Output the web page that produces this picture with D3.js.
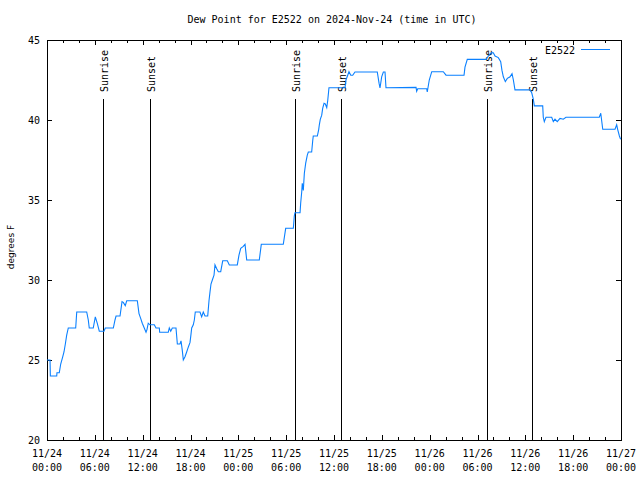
<!DOCTYPE html>
<html><head><meta charset="utf-8">
<script src="https://cdn.jsdelivr.net/npm/d3@7"></script>
<style>
body{margin:0;background:#fff}
svg text{font-family:"DejaVu Sans Mono",monospace;font-size:10px;fill:#000}
</style>
</head><body><svg id="c" width="640" height="480"></svg>
<script>
const chartTitle = "Dew Point for E2522 on 2024-Nov-24 (time in UTC)";
const seriesName = "E2522";
const yAxisLabel = "degrees F";
// hours since 2024-11-24 00:00 UTC
const hours = [0.0,0.38,0.42,1.22,1.25,1.54,1.72,1.97,2.13,2.3,2.47,2.67,3.6,3.73,4.98,5.18,5.3,5.8,6.06,6.3,6.56,7.15,7.31,8.32,8.53,8.66,9.16,9.41,9.57,9.82,10.0,11.33,11.54,11.75,11.95,12.2,12.42,12.54,12.7,12.92,13.46,13.67,14.09,14.13,15.21,15.34,15.52,15.72,16.18,16.35,16.68,16.81,16.97,17.1,17.31,17.52,17.72,17.94,18.06,18.15,18.35,18.48,18.6,19.19,19.4,19.6,19.82,20.16,20.32,20.45,20.57,20.74,20.95,21.07,21.29,21.49,21.79,22.04,22.62,22.87,23.87,24.08,24.3,24.62,24.84,25.05,26.63,26.88,29.64,29.94,30.9,31.02,31.1,31.74,31.82,31.95,32.02,32.15,32.28,32.45,32.65,32.78,33.2,33.33,33.4,33.91,34.08,34.16,34.28,34.46,34.58,34.75,34.91,35.09,35.21,35.37,37.38,37.5,37.72,37.88,38.1,38.35,38.63,41.43,41.65,41.77,41.98,42.19,42.4,42.52,46.29,46.37,46.5,47.63,47.7,47.95,48.26,49.71,50.05,52.31,52.43,52.72,55.07,55.36,55.7,55.98,56.2,56.61,56.91,57.07,57.24,57.49,57.74,58.08,58.33,58.5,58.7,60.59,60.8,61.0,61.13,62.18,62.25,62.38,62.59,63.31,63.51,63.72,64.0,64.35,64.76,65.1,69.28,69.46,69.71,71.25,71.46,71.58,71.8,71.95];
const dewPoint = [25.0,25.0,24.0,24.0,24.2,24.2,24.75,25.2,25.5,26.0,26.55,27.0,27.0,28.0,28.0,27.5,27.0,27.0,27.7,27.3,26.8,26.8,27.0,27.0,27.5,27.75,27.75,28.65,28.6,28.4,28.7,28.7,27.9,27.6,27.3,27.0,26.73,26.9,27.3,27.2,27.2,27.0,27.0,26.73,26.73,27.0,26.8,27.0,27.0,26.0,26.0,26.2,25.6,25.0,25.2,25.5,25.8,26.1,26.6,27.0,27.2,27.5,28.0,28.0,27.7,28.0,27.75,27.75,28.7,29.27,29.75,30.0,30.3,30.94,30.7,30.52,30.52,31.2,31.2,30.94,30.94,31.56,31.98,32.1,32.23,31.25,31.25,32.23,32.23,33.23,33.23,34.0,34.2,34.2,34.8,35.5,36.04,35.6,36.67,37.3,37.8,38.0,38.0,38.7,39.0,39.0,39.4,39.7,40.04,40.3,40.73,41.04,41.0,40.77,41.2,42.02,42.02,42.5,42.8,43.02,42.8,42.8,43.0,43.0,42.3,42.0,42.7,43.0,43.0,42.02,42.04,41.8,41.95,41.95,41.75,42.5,43.02,43.02,42.8,42.8,43.3,43.79,43.79,44.0,44.2,44.2,44.0,43.9,43.65,43.1,42.7,42.4,42.6,42.7,42.9,42.5,41.88,41.88,41.7,41.3,40.88,40.88,40.17,39.9,40.17,40.17,39.9,40.05,39.9,40.1,40.05,40.17,40.17,40.42,39.42,39.42,39.7,39.42,39.0,38.8];
const sunEventNames = ["Sunrise","Sunset","Sunrise","Sunset","Sunrise","Sunset"];
const sunEventHours = [7.06,12.96,31.15,36.92,55.25,60.88];
const yTickValues = [20,25,30,35,40,45];
const xMajorStepHours = 6;
const xMinorStepHours = 2;

const W=640,H=480, L=47, R=621, T=40, B=440;
const svg=d3.select("#c");
const t0=Date.UTC(2024,10,24,0,0);
const toDate=h=>new Date(t0+h*3600e3);
const x=d3.scaleUtc().domain([toDate(0),toDate(72)]).range([L,R]);
const y=d3.scaleLinear().domain([20,45]).range([B,T]);

const g=svg.append("g").attr("shape-rendering","crispEdges");
const majors=d3.range(0,72+0.01,xMajorStepHours).map(toDate);
const minors=d3.range(0,72+0.01,xMinorStepHours).map(toDate);
// x ticks bottom & top
minors.forEach(d=>{
  const X=Math.round(x(d))+0.5;
  const len = (+d - t0) % (xMajorStepHours*3600e3)===0 ? 5 : 3;
  g.append("line").attr("x1",X).attr("x2",X).attr("y1",B).attr("y2",B-len).attr("stroke","#000");
  g.append("line").attr("x1",X).attr("x2",X).attr("y1",T).attr("y2",T+len).attr("stroke","#000");
});
const fD=d3.utcFormat("%m/%d"), fT=d3.utcFormat("%H:%M");
majors.forEach(d=>{
  const X=x(d);
  svg.append("text").attr("x",X).attr("y",457).attr("text-anchor","middle").text(fD(d));
  svg.append("text").attr("x",X).attr("y",471).attr("text-anchor","middle").text(fT(d));
});
// y ticks
yTickValues.forEach(v=>{
  const Y=Math.round(y(v))+0.5;
  g.append("line").attr("x1",L).attr("x2",L+5).attr("y1",Y).attr("y2",Y).attr("stroke","#000");
  g.append("line").attr("x1",R-5).attr("x2",R).attr("y1",Y).attr("y2",Y).attr("stroke","#000");
  svg.append("text").attr("x",40).attr("y",y(v)+4).attr("text-anchor","end").text(v);
});
// sun event lines
sunEventHours.forEach((h,i)=>{
  const X=Math.round(x(toDate(h)))+0.5;
  g.append("line").attr("x1",X).attr("x2",X).attr("y1",B).attr("y2",99).attr("stroke","#000");
  svg.append("text").attr("transform",`translate(${X+4},92) rotate(-90)`).attr("text-anchor","start").text(sunEventNames[i]);
});
// frame
g.append("rect").attr("x",L+0.5).attr("y",T+0.5).attr("width",R-L).attr("height",B-T).attr("fill","none").attr("stroke","#000");
// series
const pts=hours.map((h,i)=>[toDate(h),dewPoint[i]]);
svg.append("path").datum(pts).attr("fill","none").attr("stroke","#0a80ff").attr("stroke-width",1.1)
  .attr("d",d3.line().x(d=>x(d[0])).y(d=>y(d[1])));
// title
svg.append("text").attr("x",332).attr("y",23).attr("text-anchor","middle").text(chartTitle);
// y label
svg.append("text").attr("transform","translate(14,247) rotate(-90)").attr("text-anchor","middle")
  .style("font-family","'DejaVu Sans',sans-serif").style("font-size","9px").text(yAxisLabel);
// legend
svg.append("text").attr("x",575).attr("y",54).attr("text-anchor","end").text(seriesName);
svg.append("line").attr("x1",581).attr("x2",610).attr("y1",49.5).attr("y2",49.5).attr("stroke","#0a80ff").attr("shape-rendering","crispEdges");
</script></body></html>
